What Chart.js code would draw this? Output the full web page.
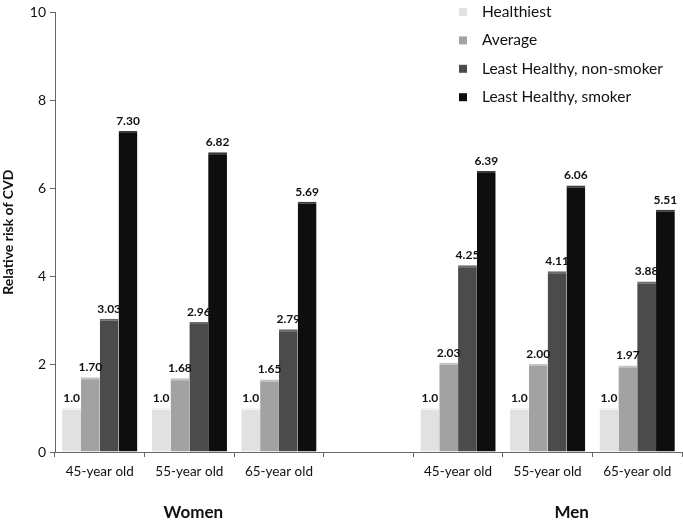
<!DOCTYPE html>
<html>
<head>
<meta charset="utf-8">
<script src="https://cdn.jsdelivr.net/npm/chart.js@4/dist/chart.umd.min.js"></script>
<style>
  html, body { margin: 0; padding: 0; background: #fff; }
  #wrap { width: 683px; height: 524px; }
</style>
</head>
<body>
<div id="wrap"><canvas id="cvdChart"></canvas></div>
<script>
const categories = ['45-year old', '55-year old', '65-year old', '', '45-year old', '55-year old', '65-year old'];
const groups = ['Women', 'Men'];
const seriesNames = ['Healthiest', 'Average', 'Least Healthy, non-smoker', 'Least Healthy, smoker'];
const healthiest = [1.0, 1.0, 1.0, null, 1.0, 1.0, 1.0];
const average = [1.70, 1.68, 1.65, null, 2.03, 2.00, 1.97];
const nonSmoker = [3.03, 2.96, 2.79, null, 4.25, 4.11, 3.88];
const smoker = [7.30, 6.82, 5.69, null, 6.39, 6.06, 5.51];
const labelDecimals = [1, 2, 2, 2];
const yTicks = [0, 2, 4, 6, 8, 10];

const fillColors = ['#e1e1e1', '#a2a2a2', '#4b4b4b', '#0e0e0e'];
const topColors = ['#f4f4f4', '#c2c2c2', '#6a6a6a', '#3a3a3a'];
const FONT = 'Lato, "Open Sans", sans-serif';

// value labels above each bar
const barLabels = {
    id: 'barLabels',
    afterDatasetsDraw(chart) {
        const ctx = chart.ctx;
        ctx.save();
        ctx.font = 'bold 12px ' + FONT;
        ctx.fillStyle = '#111';
        ctx.textAlign = 'center';
        ctx.textBaseline = 'bottom';
        chart.data.datasets.forEach((ds, i) => {
            chart.getDatasetMeta(i).data.forEach((bar, j) => {
                const v = ds.data[j];
                if (v == null) return;
                ctx.fillText(v.toFixed(labelDecimals[i]), bar.x, bar.y - 4);
            });
        });
        ctx.restore();
    }
};

// legend stacked in the top right corner, over the plot
const sideLegend = {
    id: 'sideLegend',
    afterDraw(chart) {
        const ctx = chart.ctx;
        ctx.save();
        ctx.font = '15.5px ' + FONT;
        ctx.textBaseline = 'middle';
        chart.data.datasets.forEach((ds, i) => {
            const y = 12 + i * 28.4;
            ctx.fillStyle = ds.backgroundColor;
            ctx.fillRect(459, y - 4, 8, 8);
            ctx.fillStyle = '#111';
            ctx.fillText(ds.label, 482, y);
        });
        ctx.restore();
    }
};

// Women / Men under the category labels
const groupLabels = {
    id: 'groupLabels',
    afterDraw(chart) {
        const ctx = chart.ctx;
        const x = chart.scales.x;
        ctx.save();
        ctx.font = 'bold 17px ' + FONT;
        ctx.fillStyle = '#111';
        ctx.textAlign = 'center';
        ctx.textBaseline = 'middle';
        ctx.fillText(groups[0], x.getPixelForValue(1) + 4, 513);
        ctx.fillText(groups[1], x.getPixelForValue(5) + 24, 513);
        ctx.restore();
    }
};

const datasets = [healthiest, average, nonSmoker, smoker].map((data, i) => ({
    label: seriesNames[i],
    data: data,
    backgroundColor: fillColors[i],
    borderColor: topColors[i],
    borderWidth: { top: 2, left: 0, right: 0, bottom: 0 },
    borderSkipped: 'bottom',
    categoryPercentage: 0.84,
    barPercentage: 1.0
}));

new Chart(document.getElementById('cvdChart'), {
    type: 'bar',
    data: { labels: categories, datasets: datasets },
    plugins: [barLabels, sideLegend, groupLabels],
    options: {
        responsive: true,
        maintainAspectRatio: false,
        animation: false,
        layout: { padding: { top: 8, right: 1, left: 0, bottom: 0 } },
        plugins: {
            legend: { display: false },
            tooltip: { enabled: false }
        },
        scales: {
            x: {
                grid: {
                    display: true,
                    drawOnChartArea: false,
                    drawTicks: true,
                    tickLength: 5,
                    color: '#666',
                    offset: true
                },
                border: { color: '#666', width: 1 },
                ticks: {
                    color: '#111',
                    font: { family: FONT, size: 13.5 },
                    padding: 7,
                    maxRotation: 0,
                    autoSkip: false
                },
                afterFit(scale) { scale.height = 72; }
            },
            y: {
                min: 0,
                max: 10,
                afterBuildTicks(scale) { scale.ticks = yTicks.map(v => ({ value: v })); },
                grid: {
                    display: true,
                    drawOnChartArea: false,
                    drawTicks: true,
                    tickLength: 5,
                    color: '#666'
                },
                border: { color: '#666', width: 1 },
                ticks: {
                    color: '#111',
                    font: { family: FONT, size: 14 },
                    padding: 4
                },
                title: {
                    display: true,
                    text: 'Relative risk of CVD',
                    color: '#111',
                    font: { family: FONT, size: 14, weight: 'bold' },
                    padding: { top: 0, bottom: 6 }
                },
                afterFit(scale) { scale.width = 55; }
            }
        }
    }
});
</script>
</body>
</html>
